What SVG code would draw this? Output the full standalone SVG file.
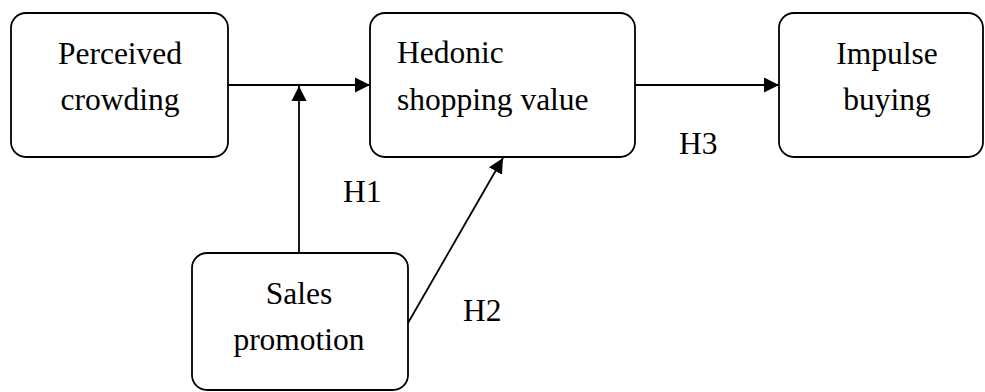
<svg xmlns="http://www.w3.org/2000/svg" width="985" height="392" viewBox="0 0 985 392">
<style>
.box{fill:#fff;stroke:#000;stroke-width:1.8}
.t{font-family:"Liberation Serif","Times New Roman",serif;font-size:31.5px;fill:#000}
.c{text-anchor:middle}
.ln{stroke:#000;stroke-width:1.8;fill:none}
</style>
<defs>
<marker id="ah" markerWidth="16" markerHeight="16" refX="15" refY="8" orient="auto" markerUnits="userSpaceOnUse">
<path d="M0,0.5 L15,8 L0,15.5 Z" fill="#000"/>
</marker>
</defs>
<rect width="985" height="392" fill="#fff"/>
<g id="perceived-crowding">
<rect class="box" x="11" y="13" width="217" height="144" rx="15"/>
<text class="t c" x="120" y="64">Perceived</text>
<text class="t c" x="120" y="110">crowding</text>
</g>
<g id="hedonic-shopping-value">
<rect class="box" x="370" y="13" width="265" height="144" rx="15"/>
<text class="t" x="397" y="63">Hedonic</text>
<text class="t" x="397" y="110">shopping value</text>
</g>
<g id="impulse-buying">
<rect class="box" x="779" y="13" width="204" height="144" rx="15"/>
<text class="t c" x="887" y="64">Impulse</text>
<text class="t c" x="887" y="110">buying</text>
</g>
<g id="sales-promotion">
<rect class="box" x="192" y="253" width="216" height="137" rx="15"/>
<text class="t c" x="299" y="304">Sales</text>
<text class="t c" x="299" y="350">promotion</text>
</g>
<g id="connectors">
<line class="ln" x1="228" y1="85" x2="370" y2="85" marker-end="url(#ah)"/>
<line class="ln" x1="299" y1="253" x2="299" y2="86" marker-end="url(#ah)"/>
<line class="ln" x1="408" y1="323" x2="503" y2="158" marker-end="url(#ah)"/>
<line class="ln" x1="635" y1="85" x2="779" y2="85" marker-end="url(#ah)"/>
</g>
<g id="labels">
<text class="t" x="343" y="202">H1</text>
<text class="t" x="463" y="321">H2</text>
<text class="t" x="679" y="154">H3</text>
</g>
</svg>
